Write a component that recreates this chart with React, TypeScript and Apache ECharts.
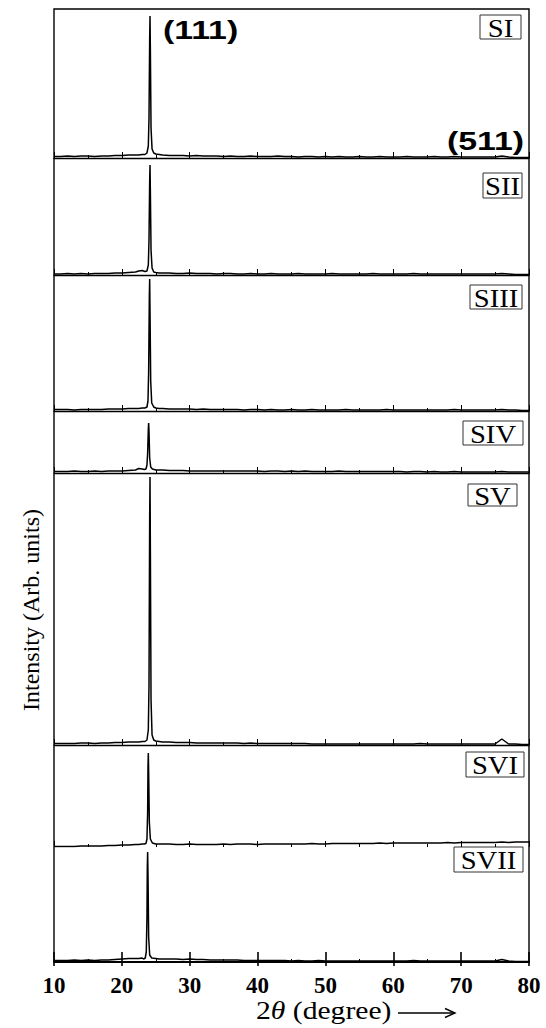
import React, { useEffect, useRef } from "react";
import * as echarts from "echarts";

// ---------------- data ----------------
const SAMPLES = ["SI", "SII", "SIII", "SIV", "SV", "SVI", "SVII"];
const PEAK_LABELS = ["(111)", "(511)"];
const X_MIN = 10;
const X_MAX = 80;
const X_STEP = 10;

// 2θ grid for the background (the window around the main peak comes from the *_PEAK lists)
const X_BASE = [
  10, 11, 12, 13, 14, 15, 16, 17, 18, 19, 20, 21, 22,
  26, 27, 28, 29, 30, 31, 32, 33, 34, 35, 36, 37, 38, 39, 40, 41, 42, 43, 44, 45,
  46, 47, 48, 49, 50, 51, 52, 53, 54, 55, 56, 57, 58, 59, 60, 61, 62, 63, 64, 65,
  66, 67, 68, 69, 70, 71, 72, 73, 74, 75, 76, 77, 78, 79, 80,
];

// intensity scale (arb. units) of each panel
const Y_MAX = [149, 117, 136, 62, 272, 102, 115];

const SI_BASE = [
  1.5, 1.5, 2, 1.5, 2, 2, 1.5, 2, 2, 2.5, 2.5, 3, 3,
  3, 2.5, 2.5, 2.5, 2, 2.5, 2, 2, 2, 1.5,
  2, 1.5, 1.5, 2, 1.5, 1.5, 1.5, 2, 1.5, 1.5,
  1, 1.5, 1.5, 1, 1.5, 1, 1.5, 1, 1, 1.5,
  1, 1, 1.5, 1, 1, 1, 1.5, 1, 1, 1,
  1.5, 1, 1, 1.5, 1, 1, 1, 1, 1, 1,
  2, 1, 0.5, 0.5, 0.5,
];
const SI_PEAK = [
  [22.5, 3], [23.0, 3.5], [23.4, 3.5], [23.7, 5], [23.9, 12], [24.0, 40], [24.1, 120],
  [24.15, 142], [24.2, 110], [24.3, 30], [24.45, 9], [24.7, 5], [25.0, 4], [25.5, 3.5],
];

const SII_BASE = [
  1, 1, 1.5, 1, 1.5, 1, 1.5, 1.5, 1.5, 2, 2, 2.5, 3,
  2, 2, 1.5, 1.5, 2, 1.5, 1.5, 1.5, 1, 1.5,
  1.5, 1, 1, 1.5, 1, 1, 1.5, 1, 1, 1,
  1.5, 1, 1, 1, 1, 1.5, 1, 1, 1, 1,
  1, 1.5, 1, 1, 1, 1, 1, 1.5, 1, 1,
  1, 1, 1, 1, 1, 1, 1, 1, 1, 1,
  1.5, 1, 0.5, 0.5, 0.5,
];
const SII_PEAK = [
  [22.5, 4], [23.0, 4.5], [23.4, 3.5], [23.7, 4], [23.9, 10], [24.0, 35], [24.1, 95],
  [24.15, 110], [24.2, 85], [24.3, 25], [24.45, 7], [24.7, 3], [25.0, 2.5], [25.5, 2],
];

const SIII_BASE = [
  1.5, 1.5, 1.5, 1, 1.5, 1.5, 1.5, 1.5, 2, 2, 2, 2.5, 2.5,
  2.5, 2, 2, 2, 2, 1.5, 2, 1.5, 1.5, 1.5,
  1.5, 1.5, 1, 1.5, 1.5, 1, 1.5, 1, 1, 1.5,
  1, 1, 1.5, 1, 1, 1, 1, 1.5, 1, 1,
  1, 1, 1, 1.5, 1, 1, 1, 1, 1, 1,
  1, 1, 1, 1.5, 1, 1, 1, 1, 1, 1,
  1.5, 1, 1, 0.5, 0.5,
];
const SIII_PEAK = [
  [22.5, 2.5], [23.0, 3], [23.4, 3], [23.7, 4], [23.85, 10], [23.95, 40], [24.05, 115],
  [24.1, 132], [24.15, 100], [24.25, 30], [24.4, 8], [24.7, 4], [25.0, 3], [25.5, 2.5],
];

const SIV_BASE = [
  1.5, 1.5, 1.5, 2, 1.5, 1.5, 2, 1.5, 2, 2, 2, 2.5, 3,
  3, 2.5, 2.5, 2.5, 2, 2, 2, 2, 2, 2,
  2, 2, 2, 2, 2, 1.5, 2, 2, 1.5, 2,
  1.5, 2, 1.5, 1.5, 1.5, 1.5, 2, 1.5, 1.5, 1.5,
  1.5, 1.5, 1.5, 1.5, 1.5, 1.5, 1, 1.5, 1.5, 1,
  1.5, 1, 1, 1.5, 1, 1, 1, 1, 1, 1,
  1.5, 1, 1, 1, 1,
];
const SIV_PEAK = [
  [22.5, 4.5], [23.0, 4], [23.3, 3.5], [23.55, 4], [23.7, 8], [23.8, 20], [23.9, 44],
  [23.95, 50], [24.0, 42], [24.1, 15], [24.25, 6], [24.5, 4], [25.0, 3], [25.5, 3],
];

const SV_BASE = [
  1.5, 1.5, 1.5, 1.5, 2, 2, 1.5, 2, 2, 2.5, 2.5, 3, 3,
  3, 3, 2.5, 2.5, 2.5, 2, 2, 2, 2, 2,
  2, 2, 1.5, 2, 1.5, 1.5, 1.5, 1.5, 1.5, 1.5,
  1.5, 1.5, 1, 1, 1, 1, 1, 1, 1, 1,
  1, 1, 1, 1, 1, 1, 1, 1, 1.5, 1,
  1, 1, 1, 1, 1, 1, 1, 1, 1, 1,
  6, 1, 1, 0.5, 0.5,
];
const SV_PEAK = [
  [22.5, 3], [23.0, 3.5], [23.4, 3.5], [23.7, 5], [23.9, 15], [24.0, 60], [24.1, 230],
  [24.15, 268], [24.2, 200], [24.3, 45], [24.45, 10], [24.7, 5], [25.0, 4], [25.5, 3.5],
];

const SVI_BASE = [
  0.5, 0.5, 0.5, 0.5, 1, 1, 1, 1, 1.5, 1.5, 2, 2, 2.5,
  3, 3, 2.5, 2.5, 3, 2.5, 2.5, 2.5, 2.5, 3,
  2.5, 3, 3, 3, 2.5, 3, 3, 3, 3, 3,
  3, 3, 3.5, 3, 3, 3.5, 3.5, 3.5, 3.5, 3.5,
  3.5, 3.5, 4, 3.5, 4, 4, 4, 4, 4, 4,
  4, 4, 4.5, 4, 4.5, 4.5, 4.5, 4.5, 4.5, 4.5,
  5, 4.5, 5, 5, 5,
];
const SVI_PEAK = [
  [22.5, 2.5], [23.0, 3], [23.3, 3], [23.55, 3.5], [23.7, 8], [23.8, 35], [23.85, 80],
  [23.9, 94], [23.95, 75], [24.05, 25], [24.2, 8], [24.5, 4], [25.0, 3], [25.5, 3],
];

const SVII_BASE = [
  1.5, 1.5, 1.5, 2, 1.5, 2, 1.5, 2, 2, 2.5, 3, 3.5, 3.5,
  3, 3, 3, 2.5, 3, 2.5, 2.5, 2, 2, 2,
  2, 2, 1.5, 1.5, 1.5, 1.5, 1.5, 1.5, 1.5, 1,
  1.5, 1, 1, 1.5, 1, 1, 1, 1, 1, 1,
  1, 1, 1, 1, 1, 1, 1, 1.5, 1, 1,
  1, 1, 1, 1, 1, 1, 1, 1, 1, 1,
  2.5, 1, 0.5, 0.5, 0.5,
];
const SVII_PEAK = [
  [22.5, 3.5], [23.0, 4], [23.2, 3], [23.45, 4], [23.6, 10], [23.7, 45], [23.75, 95],
  [23.8, 110], [23.85, 90], [23.95, 25], [24.1, 7], [24.4, 4], [25.0, 3.5], [25.5, 3],
];

const BASES = [SI_BASE, SII_BASE, SIII_BASE, SIV_BASE, SV_BASE, SVI_BASE, SVII_BASE];
const PEAKS = [SI_PEAK, SII_PEAK, SIII_PEAK, SIV_PEAK, SV_PEAK, SVI_PEAK, SVII_PEAK];

// ---------------- layout ----------------
const W = 546;
const H = 1028;
const PLOT_LEFT = 54;
const PLOT_RIGHT = 529;
const PANEL_TOP = [9, 158, 275, 411, 473, 745, 847];
const PANEL_H = [149, 117, 136, 62, 272, 102, 115];
// sample label boxes: [x, y, width, height]
const LABEL_BOX = [
  [480, 15, 41, 24],
  [483, 173, 39, 25],
  [470, 285, 52, 24],
  [463, 421, 60, 24],
  [468, 484, 49, 22],
  [466, 752, 58, 25],
  [454, 847, 69, 25],
];
const PEAK_LABEL_POS = [
  [163, 30],
  [447, 141],
];

function buildData(base: number[], peak: number[][]) {
  const lo = peak[0][0];
  const hi = peak[peak.length - 1][0];
  const left = X_BASE.map((x, i) => [x, base[i]]).filter((p) => p[0] < lo);
  const right = X_BASE.map((x, i) => [x, base[i]]).filter((p) => p[0] > hi);
  return [...left, ...peak, ...right];
}

export default function App() {
  const ref = useRef<HTMLDivElement>(null);

  useEffect(() => {
    if (!ref.current) return;
    const chart = echarts.init(ref.current, undefined, { renderer: "svg" });
    const n = SAMPLES.length;
    const serif = "'Liberation Serif', 'Times New Roman', serif";
    const sans = "'Liberation Sans', Arial, sans-serif";

    const grids = SAMPLES.map((_, i) => ({
      left: PLOT_LEFT,
      width: PLOT_RIGHT - PLOT_LEFT,
      top: PANEL_TOP[i],
      height: PANEL_H[i],
      show: false,
    }));

    const xAxes: any[] = SAMPLES.map((_, i) => {
      const last = i === n - 1;
      return {
        type: "value",
        gridIndex: i,
        position: "bottom",
        min: X_MIN,
        max: X_MAX,
        interval: X_STEP,
        axisLine: {
          show: i !== 5,
          onZero: false,
          lineStyle: { color: "#000", width: last ? 1.8 : 1.3 },
        },
        axisTick: {
          show: true,
          inside: true,
          length: last ? 10 : 6,
          lineStyle: { color: "#000", width: last ? 1.6 : 1 },
        },
        minorTick: {
          show: true,
          splitNumber: 2,
          length: 3,
          lineStyle: { color: "#000", width: 1 },
        },
        splitLine: { show: false },
        minorSplitLine: { show: false },
        axisLabel: last
          ? {
              show: true,
              color: "#000",
              fontFamily: serif,
              fontWeight: "bold",
              fontSize: 23,
              margin: 12,
            }
          : { show: false },
      };
    });
    // outward tick stubs below the bottom axis
    xAxes.push({
      type: "value",
      gridIndex: n - 1,
      position: "bottom",
      min: X_MIN,
      max: X_MAX,
      interval: X_STEP,
      axisLine: { show: false, onZero: false },
      axisTick: { show: true, inside: false, length: 4, lineStyle: { color: "#000", width: 1.6 } },
      axisLabel: { show: false },
      splitLine: { show: false },
    });

    const yAxes = SAMPLES.map((_, i) => ({
      type: "value",
      gridIndex: i,
      min: 0,
      max: Y_MAX[i],
      show: false,
    }));

    const series = SAMPLES.map((name, i) => ({
      name,
      type: "line",
      xAxisIndex: i,
      yAxisIndex: i,
      data: buildData(BASES[i], PEAKS[i]),
      showSymbol: false,
      symbol: "none",
      silent: true,
      lineStyle: { color: "#000", width: 1.5 },
    }));

    const graphic: any[] = [
      {
        type: "rect",
        shape: { x: PLOT_LEFT, y: PANEL_TOP[0], width: PLOT_RIGHT - PLOT_LEFT, height: PANEL_TOP[n - 1] + PANEL_H[n - 1] - PANEL_TOP[0] },
        style: { fill: "none", stroke: "#000", lineWidth: 1.4 },
        silent: true,
      },
    ];
    SAMPLES.forEach((name, i) => {
      const [bx, by, bw, bh] = LABEL_BOX[i];
      graphic.push({
        type: "rect",
        shape: { x: bx, y: by, width: bw, height: bh },
        style: { fill: "#fff", stroke: "#333", lineWidth: 1 },
        silent: true,
      });
      graphic.push({
        type: "text",
        x: bx + bw / 2,
        y: by + bh / 2 + 1,
        scaleX: 1.1,
        style: {
          text: name,
          fill: "#000",
          fontSize: 26,
          fontFamily: serif,
          align: "center",
          verticalAlign: "middle",
          textAlign: "center",
          textVerticalAlign: "middle",
        },
        silent: true,
      });
    });
    PEAK_LABELS.forEach((t, i) => {
      graphic.push({
        type: "text",
        x: PEAK_LABEL_POS[i][0],
        y: PEAK_LABEL_POS[i][1],
        scaleX: 1.3,
        style: {
          text: t,
          fill: "#000",
          fontSize: 26,
          fontWeight: "bold",
          fontFamily: sans,
          align: "left",
          verticalAlign: "middle",
          textAlign: "left",
          textVerticalAlign: "middle",
        },
        silent: true,
      });
    });
    graphic.push({
      type: "text",
      x: 31,
      y: 610,
      rotation: Math.PI / 2,
      style: {
        text: "Intensity (Arb. units)",
        fill: "#000",
        fontSize: 24,
        fontFamily: serif,
        align: "center",
        verticalAlign: "middle",
        textAlign: "center",
        textVerticalAlign: "middle",
      },
      silent: true,
    });
    graphic.push({
      type: "text",
      x: 256,
      y: 1010,
      scaleX: 1.14,
      style: {
        text: "2{it|θ} (degree)",
        fill: "#000",
        fontSize: 26,
        fontFamily: serif,
        align: "left",
        verticalAlign: "middle",
        textAlign: "left",
        textVerticalAlign: "middle",
        rich: {
          it: { fontStyle: "italic", fontSize: 26, fontFamily: serif, fill: "#000" },
        },
      },
      silent: true,
    });
    graphic.push({
      type: "line",
      shape: { x1: 398, y1: 1013, x2: 454, y2: 1013 },
      style: { stroke: "#000", lineWidth: 1.4 },
      silent: true,
    });
    graphic.push({
      type: "polyline",
      shape: { points: [[445, 1008.5], [455, 1013], [445, 1017.5]] },
      style: { stroke: "#000", fill: "none", lineWidth: 1.4 },
      silent: true,
    });

    chart.setOption({
      animation: false,
      backgroundColor: "#fff",
      grid: grids,
      xAxis: xAxes,
      yAxis: yAxes,
      series,
      graphic,
    });

    return () => chart.dispose();
  }, []);

  return (
    <div
      ref={ref}
      style={{ position: "absolute", left: 0, top: 0, width: W, height: H }}
    />
  );
}
